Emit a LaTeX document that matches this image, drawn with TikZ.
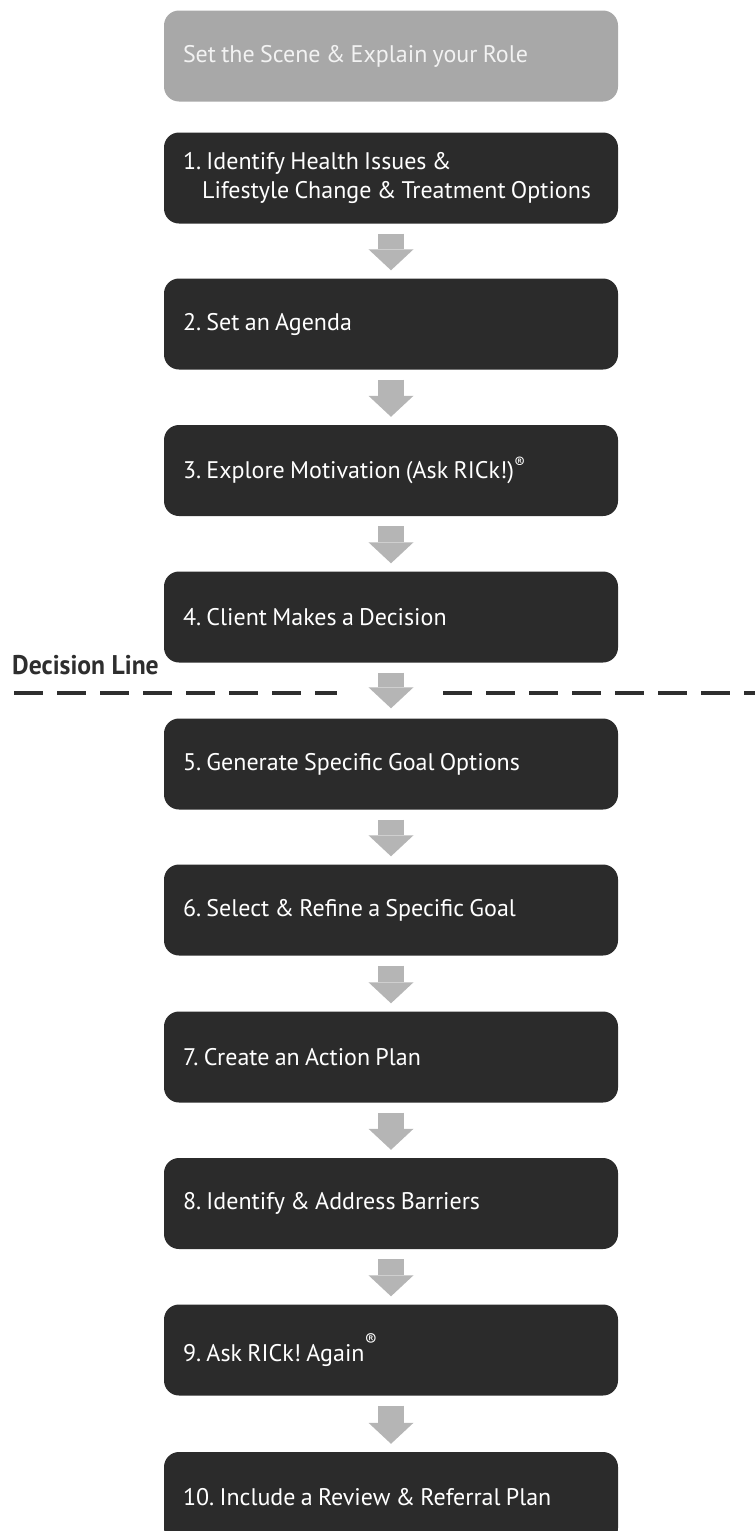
\documentclass[tikz,border=0pt]{standalone}
\usepackage{fontspec}
\setmainfont{PT Sans}
\newfontfamily\declfont[FakeStretch=0.95]{PT Sans}
\usetikzlibrary{arrows.meta}
\frenchspacing

\definecolor{boxdark}{HTML}{2B2B2B}
\definecolor{boxlight}{HTML}{A8A8A8}
\definecolor{arrowgray}{HTML}{B5B5B5}
\definecolor{linedark}{HTML}{2E2E2E}

\tikzset{
  stepbox/.style={rectangle, rounded corners=15pt, fill=boxdark, text=white,
    minimum width=454pt, minimum height=91pt, text width=416pt,
    inner xsep=19pt, inner ysep=0pt, align=left,
    font=\fontsize{24}{29}\selectfont,
    execute at begin node={\spaceskip=0.22em\xspaceskip=0.22em\relax}},
  introbox/.style={stepbox, fill=boxlight, text=white!95!black},
  flow/.style={arrowgray, line width=26pt,
    -{Triangle[width=45pt,length=21pt,line width=0pt]},
    shorten <=10pt, shorten >=8pt},
  decline/.style={linedark, line width=4pt, dash pattern=on 29pt off 14pt}
}

\begin{document}
\begin{tikzpicture}[x=1pt,y=-1pt]
\useasboundingbox (0,0) rectangle (755,1531);

\node[introbox] (intro) at (391,56) {Set the Scene \& Explain your Role};
\node[stepbox] (s1) at (391,178) {1. Identify Health Issues \&\\\hspace*{0.8em}Lifestyle Change \& Treatment Options};
\node[stepbox] (s2) at (391,324) {2. Set an Agenda};
\node[stepbox] (s3) at (391,470.5) {3. Explore Motivation (Ask RICk!)\raisebox{0.8ex}{\fontsize{16}{16}\selectfont ®}};
\node[stepbox] (s4) at (391,617) {4. Client Makes a Decision};
\node[stepbox] (s5) at (391,764) {5. Generate Specific Goal Options};
\node[stepbox] (s6) at (391,910) {6. Select \& Refine a Specific Goal};
\node[stepbox] (s7) at (391,1057) {7. Create an Action Plan};
\node[stepbox] (s8) at (391,1203.5) {8. Identify \& Address Barriers};
\node[stepbox] (s9) at (391,1350) {9. Ask RICk! Again\raisebox{1.2ex}{\fontsize{18}{18}\selectfont ®}};
\node[stepbox] (s10) at (391,1497.5) {10. Include a Review \& Referral Plan};

% decision line
\node[anchor=base west, inner sep=0pt, text=linedark,
  font=\declfont\bfseries\fontsize{27}{30}\selectfont] (decision) at (12,674) {Decision Line};
\draw[decline] (14,693) -- (337,693);
\draw[decline] (443,693) -- (755,693);

\draw[flow] (s1) -- (s2);
\draw[flow] (s2) -- (s3);
\draw[flow] (s3) -- (s4);
\draw[flow, shorten >=10pt] (s4) -- (s5);
\draw[flow] (s5) -- (s6);
\draw[flow] (s6) -- (s7);
\draw[flow] (s7) -- (s8);
\draw[flow] (s8) -- (s9);
\draw[flow] (s9) -- (s10);
\end{tikzpicture}
\end{document}
